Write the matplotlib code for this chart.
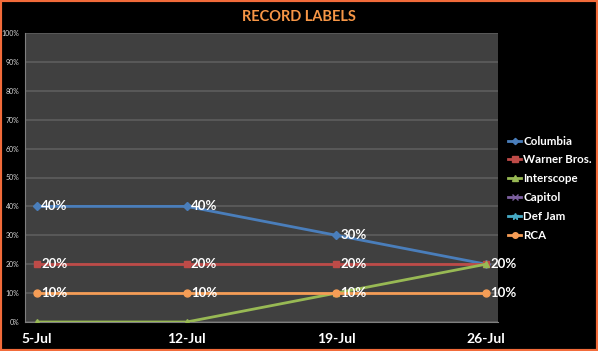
import matplotlib

matplotlib.use("Agg")
import matplotlib.pyplot as plt
from matplotlib.patches import Rectangle
from matplotlib.ticker import PercentFormatter

plt.rcParams["font.family"] = ["Lato", "DejaVu Sans"]

weeks = ["5-Jul", "12-Jul", "19-Jul", "26-Jul"]
labels = ["Columbia", "Warner Bros.", "Interscope", "Capitol", "Def Jam", "RCA"]
columbia = [0.40, 0.40, 0.30, 0.20]
warner = [0.20, 0.20, 0.20, 0.20]
interscope = [0.0, 0.0, 0.10, 0.20]
capitol = [None, None, None, None]
def_jam = [None, None, None, None]
rca = [0.10, 0.10, 0.10, 0.10]
y_ticks = [i / 10 for i in range(11)]

series = [columbia, warner, interscope, capitol, def_jam, rca]
colors = ["#4A7EBB", "#BE4B48", "#98B954", "#7D60A0", "#46AAC5", "#F59D56"]
markers = ["D", "s", "^", "x", "*", "o"]
msizes = [4, 5, 5, 5, 6, 5]
# which series get data labels (hidden duplicates at 26-Jul overlap)
show_labels = [True, True, False, False, False, True]

fig = plt.figure(figsize=(5.98, 3.51), dpi=100, facecolor="black")
ax = fig.add_axes([25 / 598, 1 - 322 / 351, 473 / 598, 289 / 351])
ax.set_facecolor("#404040")

x = list(range(len(weeks)))
handles = []
for vals, name, c, m, ms, show in zip(series, labels, colors, markers, msizes, show_labels):
    ys = [float("nan") if v is None else v for v in vals]
    (h,) = ax.plot(x, ys, color=c, lw=2, marker=m, ms=ms, mec=c, mfc=c,
                   label=name, zorder=3)
    handles.append(h)
    if show:
        for xi, v in zip(x, vals):
            if v is None:
                continue
            if name == "Columbia" and xi == 3:
                continue
            ax.annotate(f"{v:.0%}", (xi, v), xytext=(3, 0), textcoords="offset points",
                        color="white", fontsize=9.5, fontweight="bold",
                        va="center", ha="left", zorder=4)

ax.set_xlim(-0.08, 3.08)
ax.set_ylim(0, 1)
ax.set_yticks(y_ticks)
ax.yaxis.set_major_formatter(PercentFormatter(1.0, decimals=0))
ax.grid(axis="y", color="#5E5E5E", lw=1.2)
ax.set_axisbelow(True)
ax.set_xticks(x)
ax.set_xticklabels(weeks, color="white", fontsize=10, fontweight="bold")
ax.tick_params(axis="x", length=0, pad=8)
ax.tick_params(axis="y", length=0, labelsize=5, labelcolor="#D9D9D9", pad=4)
for s in ax.spines.values():
    s.set_visible(False)
ax.spines["left"].set_visible(True)
ax.spines["left"].set_color("#7F7F7F")
ax.spines["bottom"].set_visible(True)
ax.spines["bottom"].set_color("#7F7F7F")

fig.text(0.5, 1 - 17 / 351, "RECORD LABELS", color="#F79646", fontsize=10.5,
         fontweight="bold", ha="center", va="center")

leg = fig.legend(handles=handles, loc="upper left", bbox_to_anchor=(503 / 598, 1 - 131 / 351),
                 frameon=False, fontsize=8.3, labelcolor="white", handlelength=1.2,
                 handletextpad=0.15, labelspacing=0.68, borderaxespad=0, markerscale=0.8)
for t in leg.get_texts():
    t.set_fontweight("bold")

fig.patches.append(Rectangle((0, 0), 1, 1, transform=fig.transFigure, fill=False,
                             edgecolor="#F26B3A", lw=3, zorder=10))

fig.savefig("out.png", dpi=100, facecolor="black")
